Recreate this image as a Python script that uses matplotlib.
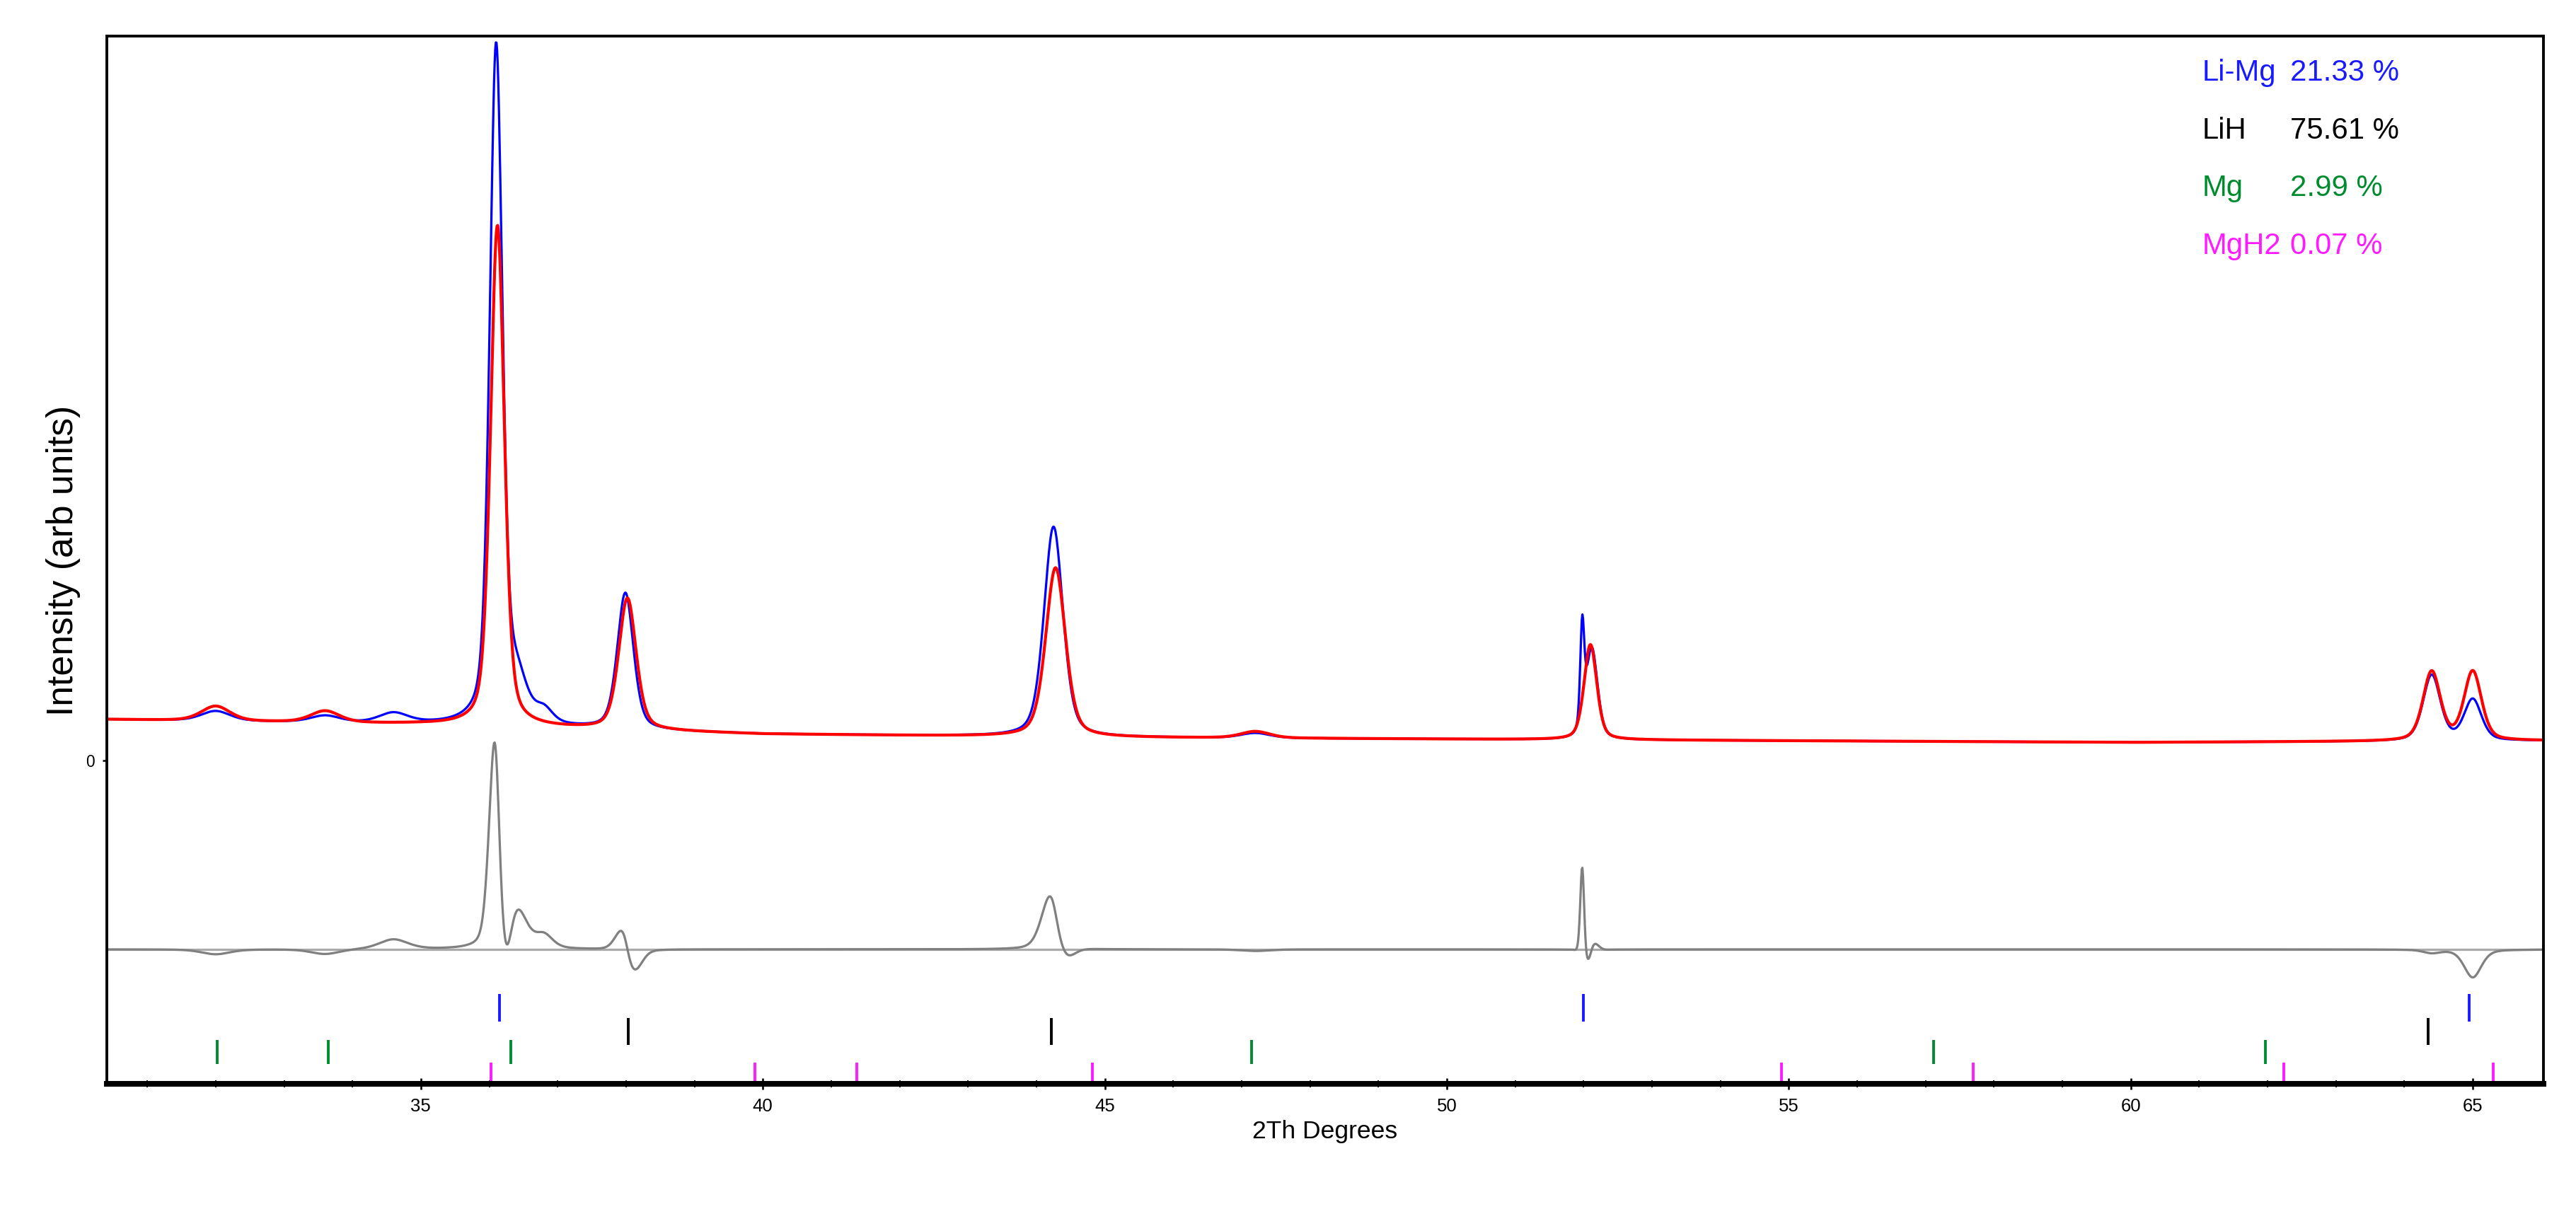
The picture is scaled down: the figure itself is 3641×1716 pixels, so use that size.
import matplotlib.pyplot as plt
import numpy as np

plt.rcParams['font.family'] = ['Liberation Sans', 'DejaVu Sans']

# background knots (2theta, intensity)
bg_x = [30.4, 35.0, 40.0, 45.0, 50.0, 55.0, 60.0, 66.1]
bg_y = [222, 219, 213, 211, 210, 209, 208, 209]

# peak lists: position, height, fwhm
obs_pos = [32.0, 33.6, 34.6, 36.1, 36.4, 36.8, 37.99, 44.25, 47.2, 51.98, 52.12, 64.4, 65.0]
obs_hgt = [6, 4, 6, 412, 25, 8, 83, 128, 3, 60, 55, 40, 25]
obs_fwh = [0.5, 0.5, 0.5, 0.22, 0.35, 0.3, 0.28, 0.33, 0.5, 0.07, 0.2, 0.3, 0.3]

calc_pos = [32.0, 33.6, 36.12, 38.02, 44.28, 47.2, 52.1, 64.4, 65.0]
calc_hgt = [9, 7, 305, 80, 103, 4, 58, 42, 42]
calc_fwh = [0.5, 0.5, 0.24, 0.3, 0.34, 0.5, 0.22, 0.3, 0.3]

diff_offset = 82

# reflection markers
phases = ['Li-Mg', 'LiH', 'Mg', 'MgH2']
fractions = ['21.33 %', '75.61 %', '2.99 %', '0.07 %']
phase_colors = ['#1a1aff', 'black', '#008c2e', '#ff1aff']
refl_limimg = [36.15, 52.0, 64.95]
refl_lih = [38.03, 44.22, 64.35]
refl_mg = [32.02, 33.65, 36.32, 47.15, 57.12, 61.97]
refl_mgh2 = [36.03, 39.88, 41.37, 44.82, 54.89, 57.7, 62.24, 65.3]
refl_rows = [(38, 55), (24, 40), (12, 27), (0, 13)]


def pattern(x, pos, hgt, fwh):
    y = np.interp(x, bg_x, bg_y)
    for p, h, w in zip(pos, hgt, fwh):
        g = np.exp(-4 * np.log(2) * ((x - p) / w) ** 2)
        lo = 1 / (1 + 4 * ((x - p) / w) ** 2)
        y = y + h * (0.6 * g + 0.4 * lo)
    return y


x = np.linspace(30.4, 66.05, 4000)
y_obs = pattern(x, obs_pos, obs_hgt, obs_fwh)
y_calc = pattern(x, calc_pos, calc_hgt, calc_fwh)
y_diff = y_obs - y_calc + diff_offset

fig = plt.figure(figsize=(15.68, 7.39), dpi=232.27)
ax = fig.add_axes([0.0415, 0.107, 0.9455, 0.863])

ax.plot(x, y_obs, color='#0000ff', lw=1.0)
ax.plot(x, y_calc, color='#ff0000', lw=1.3)
ax.axhline(diff_offset, color='#aaaaaa', lw=1.0)
ax.plot(x, y_diff, color='#808080', lw=1.0)

for refl, (lo, hi), c in zip([refl_limimg, refl_lih, refl_mg, refl_mgh2], refl_rows, phase_colors):
    ax.vlines(refl, lo, hi, color=c, lw=1.2)

for i, (ph, fr, c) in enumerate(zip(phases, fractions, phase_colors)):
    yy = 0.965 - i * 0.055
    ax.text(0.86, yy, ph, color=c, fontsize=13, transform=ax.transAxes, va='center')
    ax.text(0.896, yy, fr, color=c, fontsize=13, transform=ax.transAxes, va='center')

ax.set_xlim(30.41, 66.03)
ax.set_ylim(0, 638)
ax.set_xticks([35, 40, 45, 50, 55, 60, 65])
ax.set_xticks(np.arange(31, 66, 1), minor=True)
ax.tick_params(axis='x', labelsize=8, length=5, direction='inout')
ax.tick_params(axis='x', which='minor', length=3, direction='inout')
ax.set_yticks([197])
ax.set_yticklabels(['0'], fontsize=7)
ax.tick_params(axis='y', length=2)
for s in ax.spines.values():
    s.set_linewidth(1.2)
ax.spines['bottom'].set_linewidth(2.5)

ax.set_xlabel('2Th Degrees', fontsize=11, labelpad=2)
ax.set_ylabel('Intensity (arb units)', fontsize=16, labelpad=2)

fig.savefig('out.png')
